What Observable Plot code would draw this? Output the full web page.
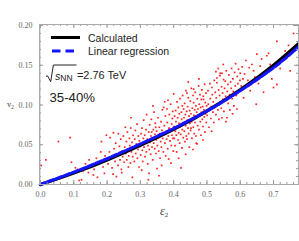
<!DOCTYPE html>
<html><head><meta charset="utf-8">
<script src="https://cdn.jsdelivr.net/npm/d3@7"></script>
<script src="https://cdn.jsdelivr.net/npm/@observablehq/plot@0.6"></script>
<style>body{margin:0;background:#fff} #chart{width:299px;height:241px}</style>
</head><body><div id="chart"></div>
<script>
const curveEps = [0, 0.1, 0.2, 0.3, 0.4, 0.5, 0.6, 0.7, 0.775];
const calcV2 = [0, 0.0145, 0.031, 0.0495, 0.0695, 0.0925, 0.119, 0.150, 0.177];
const regV2 = [0, 0.0155, 0.0325, 0.051, 0.0705, 0.0925, 0.118, 0.147, 0.173];
const xTicks = [0, 0.1, 0.2, 0.3, 0.4, 0.5, 0.6, 0.7];
const yTicks = [0, 0.05, 0.10, 0.15, 0.20];
const scatter = [
[0.002,0.024],[0.016,0.031],[0.054,0.054],[0.089,0.059],[0.093,0.028],[0.116,0.005],[0.123,0.006],[0.144,0.015],[0.171,0.009],[0.183,0.054],[0.198,0.062],[0.105,0.021],[0.128,0.017],[0.152,0.024],[0.161,0.019],[0.175,0.028],[0.188,0.022],[0.194,0.036],[0.135,0.026],[0.168,0.033],[0.181,0.041],[0.159,0.012],[0.192,0.014],[0.146,0.031],[0.112,0.019],
[0.209,0.059],[0.219,0.065],[0.234,0.064],[0.255,0.072],[0.228,0.010],[0.264,0.022],[0.276,0.009],[0.203,0.026],[0.207,0.041],[0.212,0.033],[0.215,0.021],[0.221,0.045],[0.224,0.029],[0.226,0.052],[0.231,0.037],[0.233,0.024],[0.237,0.048],[0.239,0.031],[0.241,0.057],[0.243,0.019],[0.245,0.042],[0.247,0.035],[0.249,0.061],[0.251,0.028],[0.253,0.047],[0.256,0.039],[0.258,0.054],[0.259,0.031],[0.261,0.066],[0.262,0.044],[0.265,0.036],[0.267,0.058],[0.268,0.049],[0.270,0.027],[0.271,0.071],[0.273,0.041],[0.275,0.053],[0.277,0.035],[0.278,0.062],[0.280,0.046],[0.282,0.029],[0.283,0.057],[0.285,0.068],[0.286,0.039],[0.288,0.051],[0.290,0.076],[0.291,0.033],[0.293,0.044],[0.294,0.061],[0.296,0.022],[0.297,0.055],[0.299,0.048],[0.218,0.013],[0.244,0.015],[0.272,0.084],
[0.301,0.037],[0.302,0.064],[0.303,0.052],[0.305,0.071],[0.306,0.043],[0.307,0.029],[0.309,0.058],[0.310,0.081],[0.311,0.047],[0.313,0.062],[0.314,0.035],[0.315,0.054],[0.317,0.069],[0.318,0.041],[0.319,0.088],[0.321,0.057],[0.322,0.026],[0.323,0.049],[0.324,0.006],[0.325,0.066],[0.327,0.044],[0.328,0.075],[0.329,0.053],[0.331,0.038],[0.332,0.061],[0.333,0.082],[0.335,0.047],[0.336,0.058],[0.337,0.031],[0.339,0.069],[0.340,0.052],[0.341,0.091],[0.343,0.045],[0.344,0.063],[0.345,0.077],[0.347,0.039],[0.348,0.056],[0.349,0.067],[0.350,0.020],[0.351,0.049],[0.353,0.084],[0.354,0.059],[0.355,0.042],[0.357,0.072],[0.358,0.064],[0.359,0.033],[0.361,0.054],[0.362,0.079],[0.363,0.047],[0.365,0.068],[0.366,0.094],[0.367,0.058],[0.369,0.041],[0.370,0.097],[0.371,0.063],[0.372,0.074],[0.374,0.052],[0.375,0.086],[0.376,0.036],[0.378,0.066],[0.379,0.057],[0.380,0.095],[0.381,0.078],[0.382,0.045],[0.384,0.061],[0.385,0.032],[0.386,0.071],[0.387,0.088],[0.389,0.055],[0.390,0.067],[0.391,0.101],[0.393,0.049],[0.394,0.076],[0.395,0.062],[0.396,0.083],[0.398,0.058],[0.399,0.042],[0.400,0.114],[0.304,0.018],[0.326,0.014],[0.356,0.011],[0.338,0.099],[0.364,0.024],[0.383,0.106],[0.392,0.027],[0.373,0.104],[0.346,0.072],[0.388,0.069],[0.397,0.092],[0.334,0.066],
[0.401,0.073],[0.402,0.058],[0.403,0.086],[0.404,0.049],[0.405,0.067],[0.406,0.093],[0.407,0.079],[0.408,0.062],[0.409,0.041],[0.410,0.104],[0.411,0.071],[0.412,0.084],[0.413,0.056],[0.414,0.097],[0.415,0.065],[0.416,0.077],[0.417,0.089],[0.418,0.052],[0.419,0.108],[0.420,0.073],[0.421,0.063],[0.422,0.021],[0.423,0.091],[0.424,0.082],[0.425,0.046],[0.426,0.069],[0.427,0.112],[0.428,0.078],[0.429,0.059],[0.430,0.095],[0.431,0.084],[0.432,0.067],[0.433,0.102],[0.434,0.054],[0.435,0.088],[0.436,0.074],[0.437,0.118],[0.438,0.061],[0.439,0.092],[0.440,0.115],[0.440,0.057],[0.441,0.081],[0.442,0.098],[0.443,0.071],[0.444,0.109],[0.445,0.064],[0.446,0.086],[0.447,0.047],[0.448,0.093],[0.449,0.077],[0.450,0.105],[0.451,0.068],[0.452,0.089],[0.453,0.121],[0.454,0.079],[0.455,0.058],[0.456,0.096],[0.457,0.084],[0.458,0.112],[0.459,0.072],[0.460,0.103],[0.460,0.120],[0.461,0.087],[0.462,0.064],[0.463,0.094],[0.464,0.078],[0.465,0.116],[0.466,0.083],[0.467,0.099],[0.468,0.052],[0.469,0.091],[0.470,0.051],[0.471,0.108],[0.472,0.074],[0.473,0.095],[0.474,0.086],[0.475,0.124],[0.476,0.069],[0.477,0.101],[0.478,0.088],[0.479,0.113],[0.480,0.079],[0.481,0.097],[0.482,0.062],[0.483,0.107],[0.484,0.091],[0.485,0.119],[0.486,0.082],[0.487,0.098],[0.488,0.073],[0.489,0.111],[0.490,0.107],[0.491,0.094],[0.492,0.085],[0.493,0.126],[0.494,0.066],[0.495,0.103],[0.496,0.089],[0.497,0.115],[0.498,0.078],[0.499,0.099],[0.415,0.033],[0.436,0.038],[0.458,0.044],[0.444,0.129],[0.476,0.133],[0.488,0.056],[0.426,0.099],[0.452,0.071],[0.467,0.061],
[0.501,0.087],[0.503,0.118],[0.504,0.101],[0.506,0.072],[0.507,0.094],[0.509,0.127],[0.510,0.108],[0.512,0.083],[0.513,0.098],[0.515,0.122],[0.516,0.113],[0.518,0.091],[0.519,0.104],[0.521,0.078],[0.522,0.131],[0.524,0.097],[0.525,0.116],[0.527,0.088],[0.528,0.109],[0.530,0.128],[0.530,0.134],[0.532,0.101],[0.533,0.094],[0.535,0.119],[0.536,0.082],[0.538,0.112],[0.539,0.137],[0.540,0.140],[0.541,0.104],[0.543,0.096],[0.544,0.123],[0.545,0.084],[0.545,0.140],[0.547,0.115],[0.548,0.107],[0.550,0.132],[0.551,0.092],[0.553,0.121],[0.555,0.130],[0.556,0.111],[0.558,0.143],[0.560,0.084],[0.561,0.117],[0.563,0.126],[0.564,0.102],[0.566,0.138],[0.568,0.113],[0.569,0.094],[0.571,0.129],[0.573,0.121],[0.574,0.146],[0.576,0.108],[0.578,0.133],[0.579,0.117],[0.581,0.099],[0.583,0.141],[0.585,0.124],[0.586,0.152],[0.588,0.112],[0.590,0.095],[0.591,0.136],[0.593,0.127],[0.595,0.145],[0.597,0.118],[0.599,0.131],[0.600,0.140],[0.514,0.067],[0.534,0.146],[0.557,0.079],[0.577,0.089],[0.549,0.151],[0.527,0.142],
[0.603,0.124],[0.606,0.148],[0.608,0.133],[0.610,0.109],[0.613,0.139],[0.617,0.156],[0.620,0.124],[0.623,0.131],[0.627,0.147],[0.630,0.118],[0.635,0.151],[0.640,0.143],[0.644,0.135],[0.650,0.164],[0.655,0.127],[0.660,0.149],[0.664,0.158],[0.670,0.116],[0.674,0.141],[0.680,0.162],[0.685,0.165],[0.690,0.151],[0.695,0.133],[0.700,0.122],[0.648,0.101],
[0.710,0.180],[0.710,0.126],[0.720,0.146],[0.735,0.168],[0.750,0.143],[0.760,0.190],[0.745,0.175],[0.765,0.170]
];

const calc = curveEps.map((e, i) => ({eps: e, v2: calcV2[i]}));
const reg = curveEps.map((e, i) => ({eps: e, v2: regV2[i]}));
const pts = scatter.map(([e, v]) => ({eps: e, v2: v}));
const xMinor = d3.range(0, 0.78, 0.02);
const yMinor = d3.range(0, 0.201, 0.01);

const W = 299, H = 241, mL = 39, mR = 1, mT = 24, mB = 57;
const pw = W - mL - mR, ph = H - mT - mB;
const tickCol = "#999";

const svg = Plot.plot({
  width: W, height: H,
  marginLeft: mL, marginRight: mR, marginTop: mT, marginBottom: mB,
  x: {domain: [-0.003, 0.775]},
  y: {domain: [0, 0.2013]},
  style: {fontFamily: "'Liberation Serif', serif", fontSize: "8px", color: "#666", background: "white"},
  marks: [
    Plot.ruleX([0], {stroke: "#ddd"}),
    Plot.ruleY([0], {stroke: "#ddd"}),
    Plot.dot(pts, {x: "eps", y: "v2", symbol: "square", r: 0.95, fill: "#ff2020", stroke: "none"}),
    Plot.line(calc, {x: "eps", y: "v2", stroke: "black", strokeWidth: 3.4, curve: "natural"}),
    Plot.line(reg, {x: "eps", y: "v2", stroke: "#1414ff", strokeWidth: 3.2, strokeDasharray: "6,2.5", curve: "natural"}),
    Plot.tickX(xMinor, {x: d => d, stroke: tickCol, insetTop: ph - 2}),
    Plot.tickX(xMinor, {x: d => d, stroke: tickCol, insetBottom: ph - 2}),
    Plot.tickX(xTicks, {x: d => d, stroke: tickCol, insetTop: ph - 4}),
    Plot.tickX(xTicks, {x: d => d, stroke: tickCol, insetBottom: ph - 4}),
    Plot.tickY(yMinor, {y: d => d, stroke: tickCol, insetRight: pw - 2}),
    Plot.tickY(yMinor, {y: d => d, stroke: tickCol, insetLeft: pw - 2}),
    Plot.tickY(yTicks, {y: d => d, stroke: tickCol, insetRight: pw - 4}),
    Plot.tickY(yTicks, {y: d => d, stroke: tickCol, insetLeft: pw - 4}),
    Plot.frame({stroke: "#aaa"}),
    Plot.axisX({ticks: xTicks, tickSize: 0, tickPadding: 7, tickFormat: d3.format(".1f"), label: null}),
    Plot.axisY({ticks: yTicks, tickSize: 0, tickPadding: 7, tickFormat: d3.format(".2f"), label: null})
  ]
});

const g = d3.select(svg).append("g").attr("text-anchor", "start");
const sans = "'Liberation Sans', Arial, sans-serif";
// legend
g.append("line").attr("x1", 51).attr("x2", 80).attr("y1", 37.5).attr("y2", 37.5).attr("stroke", "black").attr("stroke-width", 3);
g.append("text").attr("x", 88).attr("y", 42).attr("font-family", sans).attr("font-size", 10.5).attr("fill", "#222").text("Calculated");
g.append("line").attr("x1", 52).attr("x2", 77).attr("y1", 51).attr("y2", 51).attr("stroke", "#1414ff").attr("stroke-width", 3).attr("stroke-dasharray", "8.5,5");
g.append("text").attr("x", 88).attr("y", 55).attr("font-family", sans).attr("font-size", 10.5).attr("fill", "#222").text("Linear regression");
// sqrt(s_NN)
g.append("path").attr("d", "M46,76.5 L47.5,75.8 L50.7,81.7 L53.4,65 L76.5,65").attr("fill", "none").attr("stroke", "#222").attr("stroke-width", 1);
const t1 = g.append("text").attr("x", 55).attr("y", 80).attr("font-family", sans).attr("fill", "#222");
t1.append("tspan").attr("font-size", 10.5).attr("font-style", "italic").text("s");
t1.append("tspan").attr("font-size", 8.5).attr("dy", 0.5).text("NN");
g.append("text").attr("x", 77).attr("y", 79).attr("font-family", sans).attr("font-size", 10.9).attr("fill", "#222").text("=2.76 TeV");
g.append("text").attr("x", 49.5).attr("y", 101.5).attr("font-family", sans).attr("font-size", 13.2).attr("fill", "#222").text("35-40%");
// axis labels
const serif = "'Liberation Serif', serif";
const yl = g.append("text").attr("x", 7).attr("y", 107).attr("font-family", serif).attr("fill", "#444");
yl.append("tspan").attr("font-size", 8.5).text("v");
yl.append("tspan").attr("font-size", 5.5).attr("dy", 1.5).text("2");
const xl = g.append("text").attr("x", 160).attr("y", 215).attr("font-family", serif).attr("fill", "#444");
xl.append("tspan").attr("font-size", 12).attr("font-style", "italic").text("ε");
xl.append("tspan").attr("font-size", 7).attr("dy", 2).text("2");

document.getElementById("chart").appendChild(svg);
</script>
</body></html>
